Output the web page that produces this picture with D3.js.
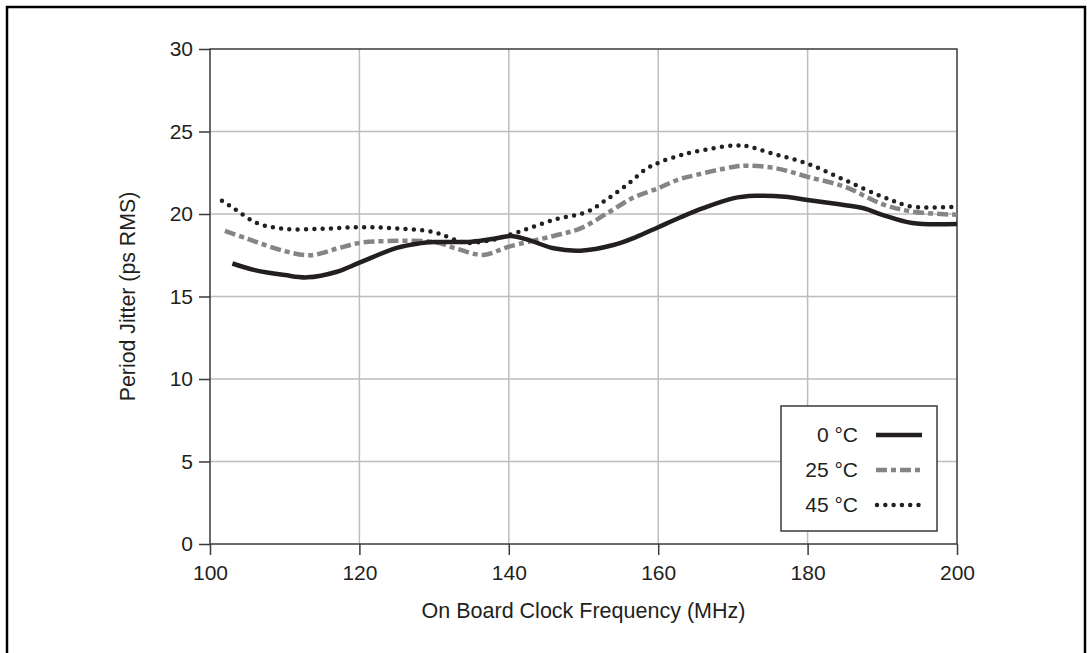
<!DOCTYPE html>
<html>
<head>
<meta charset="utf-8">
<script src="https://cdn.jsdelivr.net/npm/d3@7"></script>
<style>
  body { margin: 0; background: #fff; }
  svg { display: block; font-family: "Liberation Sans", Arial, Helvetica, sans-serif; }
</style>
</head>
<body>
<div id="chart"></div>
<script>
// data
const freq0 = [103, 106, 110, 113, 117, 120, 125, 128, 130, 135, 138, 140.3, 142.5, 146, 149.6, 154, 157, 160, 163, 166, 170, 173, 177, 180, 184, 187.5, 190, 194, 200]
const jitter0 = [17.0, 16.6, 16.3, 16.16, 16.5, 17.05, 17.95, 18.22, 18.3, 18.32, 18.5, 18.67, 18.45, 17.92, 17.78, 18.12, 18.6, 19.2, 19.8, 20.35, 20.95, 21.1, 21.05, 20.85, 20.6, 20.35, 19.95, 19.45, 19.4]

const freq25 = [102, 105, 110, 113.4, 117, 120, 123, 130, 133, 136.6, 140, 146, 149.6, 153, 156.7, 160, 162.5, 165, 170, 172, 176, 180, 185, 190, 194, 200]
const jitter25 = [18.97, 18.5, 17.75, 17.5, 17.9, 18.25, 18.35, 18.3, 17.9, 17.52, 18.02, 18.67, 19.13, 20.0, 21.0, 21.56, 22.06, 22.36, 22.85, 22.93, 22.75, 22.25, 21.65, 20.6, 20.15, 19.95]

const freq45 = [101.6, 103, 106.3, 110, 115, 120, 125, 130, 133, 134.5, 137.5, 141.4, 146, 150.5, 153, 155.8, 158.5, 160, 162.5, 165, 170, 172, 175, 180, 185, 190, 194, 200]
const jitter45 = [20.8, 20.4, 19.45, 19.1, 19.1, 19.2, 19.13, 18.9, 18.4, 18.25, 18.4, 18.93, 19.64, 20.14, 20.85, 21.76, 22.77, 23.1, 23.5, 23.78, 24.15, 24.1, 23.7, 23.05, 22.05, 21.05, 20.45, 20.45]

const seriesNames = ['0 °C', '25 °C', '45 °C']
const xTicks = [100, 120, 140, 160, 180, 200]
const yTicks = [0, 5, 10, 15, 20, 25, 30]

const W = 1087, H = 653
const margin = {top: 49, right: 130, bottom: 109, left: 210}
const width = W - margin.left - margin.right
const height = H - margin.top - margin.bottom

const styles = [
    {stroke: '#231f20', width: 4.5, dash: null, cap: 'butt'},
    {stroke: '#858585', width: 4.5, dash: '11 4 5 4', cap: 'butt'},
    {stroke: '#231f20', width: 4.5, dash: '0 8.3', cap: 'round'}
]

const svg = d3.select('#chart').append('svg')
    .attr('width', W)
    .attr('height', H)

// outer frame (bottom edge falls outside the picture)
svg.append('rect')
    .attr('x', 7).attr('y', 7)
    .attr('width', 1078).attr('height', 700)
    .attr('fill', 'none')
    .attr('stroke', '#000')
    .attr('stroke-width', 2.5)

const g = svg.append('g')
    .attr('transform', `translate(${margin.left}, ${margin.top})`)

const x = d3.scaleLinear().domain([100, 200]).range([0, width])
const y = d3.scaleLinear().domain([0, 30]).range([height, 0])

// grid
g.append('g').selectAll('line')
    .data(xTicks.slice(1, -1))
    .join('line')
    .attr('x1', d => x(d)).attr('x2', d => x(d))
    .attr('y1', 0).attr('y2', height)
    .attr('stroke', '#bdbdbd').attr('stroke-width', 1.5)

g.append('g').selectAll('line')
    .data(yTicks.slice(1, -1))
    .join('line')
    .attr('x1', 0).attr('x2', width)
    .attr('y1', d => y(d)).attr('y2', d => y(d))
    .attr('stroke', '#bdbdbd').attr('stroke-width', 1.5)

// plot frame
g.append('rect')
    .attr('width', width).attr('height', height)
    .attr('fill', 'none')
    .attr('stroke', '#3a3a3a')
    .attr('stroke-width', 1.5)

// axes
const leftAxis = g.append('g')
    .call(d3.axisLeft(y).tickValues(yTicks).tickSize(11).tickPadding(6))
const bottomAxis = g.append('g')
    .attr('transform', `translate(0, ${height})`)
    .call(d3.axisBottom(x).tickValues(xTicks).tickSize(11).tickPadding(10))

;[leftAxis, bottomAxis].forEach(a => {
    a.select('.domain').remove()
    a.selectAll('.tick line').attr('stroke', '#3a3a3a').attr('stroke-width', 1.5)
    a.selectAll('.tick text')
        .attr('fill', '#231f20')
        .style('font-size', '21px')
        .style('font-family', '"Liberation Sans", Arial, sans-serif')
})

// axis titles
g.append('text')
    .attr('x', width / 2)
    .attr('y', height + 74)
    .attr('text-anchor', 'middle')
    .attr('fill', '#231f20')
    .style('font-size', '21.5px')
    .text('On Board Clock Frequency (MHz)')

g.append('text')
    .attr('transform', `translate(${128 - margin.left}, ${height / 2}) rotate(-90)`)
    .attr('text-anchor', 'middle')
    .attr('dy', '0.35em')
    .attr('fill', '#231f20')
    .style('font-size', '21.3px')
    .text('Period Jitter (ps RMS)')

// lines
const series = [
    freq0.map((f, i) => ({f, v: jitter0[i]})),
    freq25.map((f, i) => ({f, v: jitter25[i]})),
    freq45.map((f, i) => ({f, v: jitter45[i]}))
]

const line = d3.line()
    .x(d => x(d.f))
    .y(d => y(d.v))
    .curve(d3.curveCatmullRom.alpha(0.5))

// draw 45 first, then 25, then 0 on top
;[2, 1, 0].forEach(i => {
    g.append('path')
        .datum(series[i])
        .attr('d', line)
        .attr('fill', 'none')
        .attr('stroke', styles[i].stroke)
        .attr('stroke-width', styles[i].width)
        .attr('stroke-dasharray', styles[i].dash)
        .attr('stroke-linecap', styles[i].cap)
        .attr('stroke-linejoin', 'round')
})

// legend
const legend = svg.append('g').attr('transform', 'translate(781, 406)')
legend.append('rect')
    .attr('width', 156).attr('height', 125)
    .attr('fill', '#fff')
    .attr('stroke', '#3a3a3a')
    .attr('stroke-width', 1.5)

seriesNames.forEach((name, i) => {
    const cy = 29 + i * 35
    legend.append('text')
        .attr('x', 77).attr('y', cy)
        .attr('dy', '0.35em')
        .attr('text-anchor', 'end')
        .attr('fill', '#231f20')
        .style('font-size', '21px')
        .text(name)
    legend.append('line')
        .attr('x1', i === 2 ? 96 : 95).attr('x2', 141)
        .attr('y1', cy).attr('y2', cy)
        .attr('stroke', styles[i].stroke)
        .attr('stroke-width', styles[i].width)
        .attr('stroke-dasharray', styles[i].dash)
        .attr('stroke-linecap', styles[i].cap)
})
</script>
</body>
</html>
